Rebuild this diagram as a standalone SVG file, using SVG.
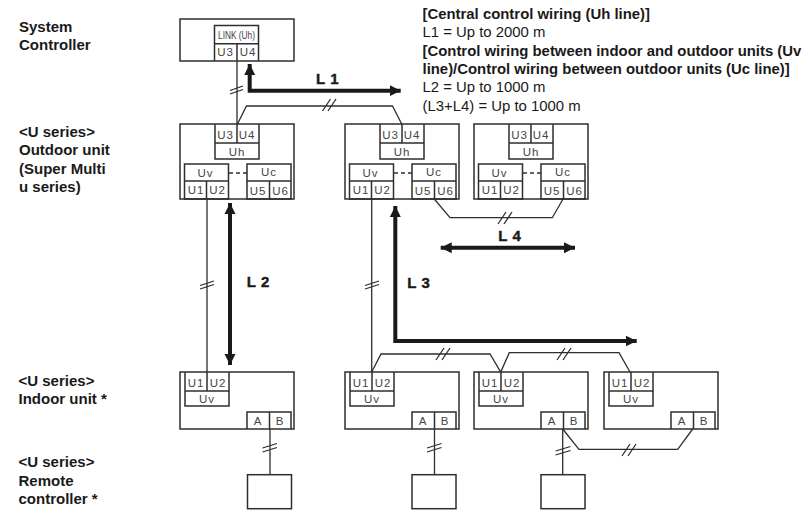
<svg xmlns="http://www.w3.org/2000/svg" width="810" height="520" viewBox="0 0 810 520">
<style>
text{font-family:"Liberation Sans",Arial,sans-serif;fill:#1a1a1a}
.b{fill:none;stroke:#2e2e2e;stroke-width:1.5}
.w{fill:none;stroke:#2e2e2e;stroke-width:1.3}
.t{font-size:11.5px;text-anchor:middle;fill:#444;letter-spacing:1px}
.k{font-size:10.500px;text-anchor:middle;fill:#444}
.l{font-size:15px;font-weight:bold}
.r{font-size:14.900px}
.h{font-size:14.900px;font-weight:bold}
.a{font-size:15px;font-weight:bold;letter-spacing:.6px;stroke:#1a1a1a;stroke-width:.4}
.th{fill:none;stroke:#1a1a1a;stroke-width:4}
</style>
<defs>
<marker id="ah" markerUnits="userSpaceOnUse" markerWidth="12" markerHeight="12" refX="11" refY="6" orient="auto-start-reverse"><path d="M0 .5L11 6L0 11.500Z" fill="#1a1a1a"/></marker>
<g id="out">
<rect class="b" x="0" y="0" width="114" height="75"/>
<path class="b" d="M35 0V35H79V0M35 19H79M57 0V19M4.500 40H48.500V75H4.500ZM4.500 57H48.500M26.500 57V75M67 40H111V75H67ZM67 57H111M89.500 57V75"/>
<path class="b" d="M49 49H67" stroke-dasharray="4 3"/>
<text class="t" x="45.500" y="14.500">U3</text><text class="t" x="67" y="14.500">U4</text><text class="t" x="57" y="32">Uh</text>
<text class="t" x="25.500" y="52.500">Uv</text><text class="t" x="89" y="52">Uc</text>
<text class="t" x="16" y="70">U1</text><text class="t" x="37.500" y="70">U2</text><text class="t" x="78" y="71">U5</text><text class="t" x="100.500" y="71">U6</text>
</g>
<g id="ind">
<rect class="b" x="0" y="0" width="114" height="57"/>
<path class="b" d="M5 0V34H49V0M5 19H49M27 0V19M67 57V40H111V57M89.500 40V57"/>
<text class="t" x="16" y="14.500">U1</text><text class="t" x="38" y="14.500">U2</text><text class="t" x="27" y="31">Uv</text>
<text class="t" x="78" y="53">A</text><text class="t" x="100" y="53">B</text>
</g>
</defs>

<g id="labels">
<text class="l" x="19" y="31.700">System</text><text class="l" x="19" y="50">Controller</text>
<text class="l" x="19" y="136.700">&lt;U series&gt;</text><text class="l" x="19" y="155">Outdoor unit</text><text class="l" x="19" y="173.500">(Super Multi</text><text class="l" x="19" y="191.700">u series)</text>
<text class="l" x="18.500" y="385.500">&lt;U series&gt;</text><text class="l" x="18.500" y="403.800">Indoor unit *</text>
<text class="l" x="18.500" y="466.700">&lt;U series&gt;</text><text class="l" x="18.500" y="485.700">Remote</text><text class="l" x="18.500" y="504">controller *</text>
<text class="h" x="422.500" y="19">[Central control wiring (Uh line)]</text>
<text class="r" x="422.500" y="37">L1 = Up to 2000 m</text>
<text class="h" x="422.500" y="56">[Control wiring between indoor and outdoor units (Uv</text>
<text class="h" x="422.500" y="74">line)/Control wiring between outdoor units (Uc line)]</text>
<text class="r" x="422.500" y="92">L2 = Up to 1000 m</text>
<text class="r" x="422.500" y="110.700">(L3+L4) = Up to 1000 m</text>
<text class="a" x="316" y="83.700">L 1</text>
<text class="a" x="246.700" y="286.700">L 2</text>
<text class="a" x="407.300" y="288.300">L 3</text>
<text class="a" x="498.300" y="241">L 4</text>
</g>

<g id="system-controller">
<rect class="b" x="180" y="19" width="114" height="42"/>
<path class="b" d="M214.500 61V25.500H258.500V61M214.500 43.700H258.500M237 43.700V61"/>
<text class="k" x="236.500" y="39" textLength="37" lengthAdjust="spacingAndGlyphs">LINK (Uh)</text>
<text class="t" x="225.500" y="56">U3</text><text class="t" x="248" y="56">U4</text>
</g>
<use id="outdoor-1" href="#out" x="180" y="124"/>
<use id="outdoor-2" href="#out" x="345" y="124"/>
<use id="outdoor-3" href="#out" x="474" y="124"/>
<use id="indoor-1" href="#ind" x="180" y="372"/>
<use id="indoor-2" href="#ind" x="345" y="372"/>
<use id="indoor-3" href="#ind" x="474" y="372"/>
<use id="indoor-4" href="#ind" x="604" y="372"/>
<g id="remote-1"><rect class="b" x="247.500" y="474.700" width="44" height="34"/></g>
<g id="remote-2"><rect class="b" x="412" y="474.700" width="44" height="34"/></g>
<g id="remote-3"><rect class="b" x="541" y="474.700" width="44" height="34"/></g>

<g id="connectors">
<path class="w" d="M237 61V124M230 90.500L243 86M230 94L243 89.500"/>
<path class="w" d="M237.500 124L246.500 106H392.500L401.700 124M322.500 111L330.500 99M328 111L336 99"/>
<path class="w" d="M207 199V372M200 285.500L214 281M200 289L214 284.500"/>
<path class="w" d="M371.700 199V372M365 285.500L379 281M365 289L379 284.500"/>
<path class="w" d="M434.300 199L450 217.700H552.300L563 199M498 224L506 212M504 224L512 212"/>
<path class="w" d="M371.700 372L381 354H490L500.700 372L509.300 352.700H619L630 372M436 360L444 348M442 360L450 348M557 360L565 348M563 360L571 348"/>
<path class="w" d="M270 429V475M262.500 448L277 443.500M262.500 452L277 447.500"/>
<path class="w" d="M434.500 429V475M427 448L441.500 443.500M427 452L441.500 447.500"/>
<path class="w" d="M562.700 429V475M555.500 451L570.500 446.500M555.500 455L570.500 450.500"/>
<path class="w" d="M562.700 429L579 449.300H677.700L692.700 429M622 456L630 444M628 456L636 444"/>
<path class="th" d="M249.700 64V90.700H400.700" marker-start="url(#ah)" marker-end="url(#ah)"/>
<path class="th" d="M230 203V365" marker-start="url(#ah)" marker-end="url(#ah)"/>
<path class="th" d="M395.300 206V341H636.700" marker-start="url(#ah)" marker-end="url(#ah)"/>
<path class="th" d="M440.700 247.700H575" marker-start="url(#ah)" marker-end="url(#ah)"/>
</g>
</svg>
